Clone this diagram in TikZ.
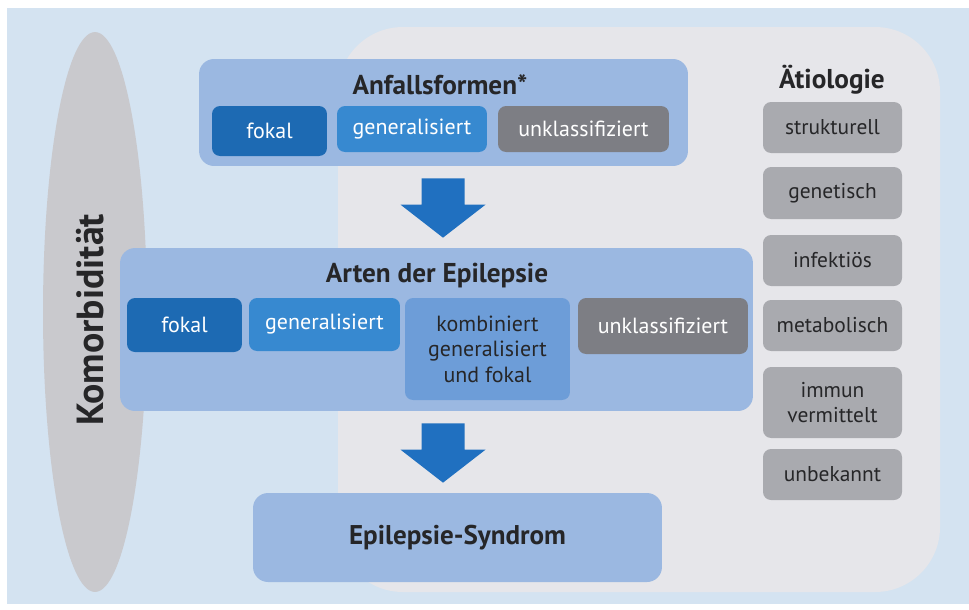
\documentclass[tikz,border=0pt]{standalone}
\usepackage{fontspec}
\setmainfont{PT Sans}
\usetikzlibrary{shapes.geometric,calc}
\definecolor{hgblau}{HTML}{D4E3F1}
\definecolor{feldgrau}{HTML}{E6E6EA}
\definecolor{ovalgrau}{HTML}{C9C9CD}
\definecolor{rahmenblau}{HTML}{9BB8E1}
\definecolor{dunkelblau}{HTML}{1D6AB3}
\definecolor{mittelblau}{HTML}{3789D0}
\definecolor{hellblau}{HTML}{6D9DD8}
\definecolor{dunkelgrau}{HTML}{7D7E84}
\definecolor{aetgrau}{HTML}{A9AAAF}
\definecolor{pfeilblau}{HTML}{2070C0}
\definecolor{schrift}{HTML}{262628}
\tikzset{
  rahmen/.style={fill=rahmenblau, rounded corners=0.3cm, inner sep=0pt},
  titel/.style={font=\fontsize{15.5}{17}\selectfont\bfseries, text=schrift},
  klein/.style={rounded corners=0.16cm, inner sep=0pt, align=center, text=white,
    font=\fontsize{12.5}{14.5}\selectfont},
  aetbox/.style={klein, fill=aetgrau, text=schrift, minimum width=2.78cm,
    font=\fontsize{12.2}{14.2}\selectfont},
}
% Blockpfeil zwischen zwei Koordinaten
\newcommand\blockpfeil[2]{%
  \fill[pfeilblau] ($(#1)+(-21.5,12)$) -- ($(#1)+(21.5,12)$) -- ($(#2)+(21.5,-43)$)
    -- ($(#2)+(42.5,-43)$) -- ($(#2)+(0,-10)$) -- ($(#2)+(-42.5,-43)$)
    -- ($(#2)+(-21.5,-43)$) -- cycle;}
\begin{document}
\begin{tikzpicture}[x=0.02cm, y=-0.02cm, line join=round]
\useasboundingbox (0,0) rectangle (969,609);
\fill[hgblau] (7,8) rectangle (969,604);
\fill[feldgrau, rounded corners=1.3cm] (338,27) rectangle (940,592);
% Komorbiditaet
\node[ellipse, fill=ovalgrau, minimum width=2.08cm, minimum height=11.2cm] (komorb) at (95,312) {};
\node[rotate=90, font=\fontsize{21.5}{23}\selectfont\bfseries, text=schrift] (komorbtxt) at (90,320) {Komorbidität};
% Anfallsformen
\node[rahmen, minimum width=9.78cm, minimum height=2.14cm] (anf) at (443.5,112.5) {};
\node[titel] (anftitel) at (440,85) {Anfallsformen*};
\node[klein, fill=dunkelblau, minimum width=2.3cm, minimum height=1.0cm] (afokal) at (269.5,131) {fokal};
\node[klein, fill=mittelblau, minimum width=3.0cm, minimum height=0.92cm] (agen) at (412,129) {generalisiert};
\node[klein, fill=dunkelgrau, minimum width=3.42cm, minimum height=0.92cm] (aunk) at (583.5,129) {unklassifiziert};
% Arten der Epilepsie
\node[rahmen, minimum width=12.66cm, minimum height=3.26cm] (arten) at (436.5,329.5) {};
\node[titel] (artentitel) at (437,276) {Arten der Epilepsie};
\node[klein, fill=dunkelblau, minimum width=2.3cm, minimum height=1.08cm] (efokal) at (184.5,325) {fokal};
\node[klein, fill=mittelblau, minimum width=3.02cm, minimum height=1.06cm] (egen) at (324.5,324.5) {generalisiert};
\node[klein, fill=hellblau, text=schrift, minimum width=3.3cm, minimum height=2.04cm] (ekomb) at (487.5,349)
  {kombiniert\\generalisiert\\und fokal};
\node[klein, fill=dunkelgrau, minimum width=3.4cm, minimum height=1.12cm] (eunk) at (663,326) {unklassifiziert};
% Epilepsie-Syndrom
\node[rahmen, minimum width=8.18cm, minimum height=1.78cm, font=\fontsize{15.4}{17}\selectfont\bfseries,
  text=schrift] (syndrom) at (457.5,537.5) {Epilepsie-Syndrom};
% Pfeile
\coordinate (p1a) at (anf.south -| 443,0);
\coordinate (p1b) at (arten.north -| 443,0);
\coordinate (p2a) at (arten.south -| 443,0);
\coordinate (p2b) at (syndrom.north -| 443,0);
\blockpfeil{p1a}{p1b}
\blockpfeil{p2a}{p2b}
% Aetiologie
\node[titel] (aettitel) at (832,80) {Ätiologie};
\foreach \nm/\yy/\hh/\lbl in {struk/127.5/1.02/strukturell, genet/193/1.04/genetisch,
  infekt/260.5/1.02/infektiös, metab/325.5/1.02/metabolisch,
  immun/402.5/1.42/{immun\\vermittelt}, unbek/474.5/1.02/unbekannt}
  \node[aetbox, minimum height=\hh cm] (\nm) at (832.5,\yy) {\lbl};
\end{tikzpicture}
\end{document}
